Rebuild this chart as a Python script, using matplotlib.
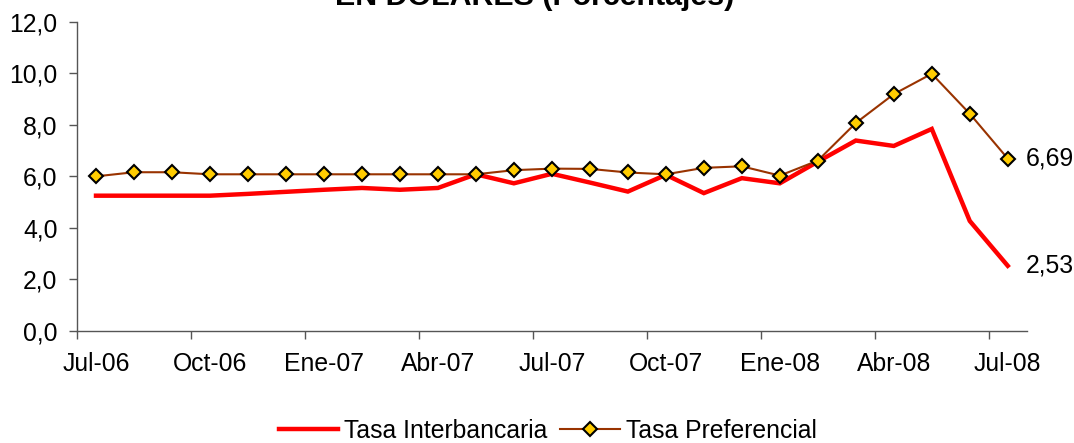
import matplotlib
matplotlib.use("Agg")
import matplotlib.pyplot as plt
from matplotlib.lines import Line2D

plt.rcParams['font.family'] = ['Liberation Sans', 'DejaVu Sans']

title = "EN DÓLARES (Porcentajes)"
months = ["Jul-06", "Ago-06", "Sep-06", "Oct-06", "Nov-06", "Dic-06",
          "Ene-07", "Feb-07", "Mar-07", "Abr-07", "May-07", "Jun-07",
          "Jul-07", "Ago-07", "Sep-07", "Oct-07", "Nov-07", "Dic-07",
          "Ene-08", "Feb-08", "Mar-08", "Abr-08", "May-08", "Jun-08", "Jul-08"]
tick_labels = ["Jul-06", "Oct-06", "Ene-07", "Abr-07", "Jul-07",
               "Oct-07", "Ene-08", "Abr-08", "Jul-08"]
interbancaria = [5.25, 5.25, 5.25, 5.25, 5.32, 5.40, 5.48, 5.55, 5.48, 5.55,
                 6.08, 5.73, 6.10, 5.76, 5.41, 6.06, 5.35, 5.93, 5.73, 6.57,
                 7.39, 7.18, 7.84, 4.27, 2.53]
preferencial = [6.00, 6.16, 6.16, 6.08, 6.08, 6.08, 6.08, 6.08, 6.08, 6.08,
                6.08, 6.24, 6.30, 6.29, 6.15, 6.08, 6.33, 6.39, 6.03, 6.61,
                8.07, 9.19, 9.98, 8.43, 6.69]
series_names = ["Tasa Interbancaria", "Tasa Preferencial"]

FS = 17.8
fig = plt.figure(figsize=(10.74, 4.43), dpi=100)
ax = fig.add_axes([0.0717, 0.2528, 0.956 - 0.0717, 0.951 - 0.2528])

x = list(range(len(months)))
ax.plot(x, interbancaria, color='#FF0000', lw=3.2, solid_joinstyle='miter',
        label=series_names[0], zorder=2)
ax.plot(x, preferencial, color='#993300', lw=1.5, marker='D', ms=7.6,
        mfc='#FFCC00', mec='black', mew=1.5, label=series_names[1], zorder=3)

ax.set_xlim(-0.5, len(months) - 0.5)
ax.set_ylim(0, 12)
ax.set_yticks(range(0, 13, 2))
ax.set_yticklabels([f"{v:.1f}".replace('.', ',') for v in range(0, 13, 2)])
ax.set_xticks([months.index(t) for t in tick_labels])
ax.set_xticklabels(tick_labels)
ax.set_xticks([i - 0.5 for i in range(0, len(months), 3)], minor=True)

for s in ['top', 'right']:
    ax.spines[s].set_visible(False)
for s in ['left', 'bottom']:
    ax.spines[s].set_color('#555555')
    ax.spines[s].set_linewidth(1.0)

ax.tick_params(axis='y', direction='out', length=5.5, width=1.0, color='#555555',
               labelsize=FS, pad=8.5)
ax.tick_params(axis='x', which='major', length=0, labelsize=FS, pad=15)
ax.tick_params(axis='x', which='minor', direction='out', length=5.5, width=1.0,
               color='#555555')

for vals in (preferencial, interbancaria):
    ax.annotate(f"{vals[-1]:.2f}".replace('.', ','), xy=(x[-1], vals[-1]),
                xytext=(13, 0), textcoords='offset points', ha='left',
                va='center', fontsize=FS)

fig.text(0.498, 1 - 5.0 / 443, title, ha='center', va='baseline',
         fontsize=21.9, fontweight='bold')

handles = [Line2D([], [], color='#FF0000', lw=3.2),
           Line2D([], [], color='#993300', lw=1.5, marker='D', ms=7.6,
                  mfc='#FFCC00', mec='black', mew=1.5)]
fig.legend(handles, series_names, loc='center', bbox_to_anchor=(0.51, 0.027),
           ncol=2, frameon=False, fontsize=FS, handlelength=2.4,
           handletextpad=0.25, columnspacing=0.5, borderpad=0, borderaxespad=0)

fig.savefig("out.png", dpi=100)
